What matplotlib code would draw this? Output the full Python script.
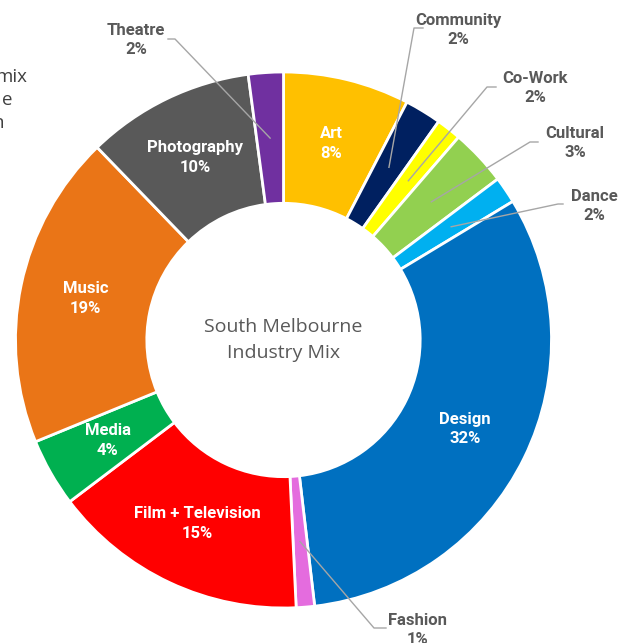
import numpy as np
import matplotlib
matplotlib.use("Agg")
import matplotlib.pyplot as plt

# industry shares (clockwise from 12 o'clock)
industries = ["Art", "Community", "Co-Work", "Cultural", "Dance", "Design",
              "Fashion", "Film + Television", "Media", "Music", "Photography", "Theatre"]
shares = [7.6, 2.2, 1.5, 3.4, 1.6, 31.7, 1.1, 15.4, 4.1, 18.9, 10.1, 2.1]
pct_labels = ["8%", "2%", "2%", "3%", "2%", "32%", "1%", "15%", "4%", "19%", "10%", "2%"]
colors = ["#FFC000", "#002060", "#FFFF00", "#92D050", "#00B0F0", "#0070C0",
          "#E46CDE", "#FF0000", "#00B050", "#EA7517", "#595959", "#7030A0"]

inside = {"Art", "Design", "Film + Television", "Media", "Music", "Photography"}

# outside label layout in pixels: text centre, line start, elbow
outside_layout = {
    "Theatre":   ((136, 40), (168, 39), (175, 39)),
    "Community": ((458, 30), (423, 28), (414, 28)),
    "Co-Work":   ((535, 88), (496, 87), (487, 87)),
    "Cultural":  ((575, 143), (538, 142), (530, 142)),
    "Dance":     ((594, 206), (563, 204), (558, 204)),
    "Fashion":   ((418, 630), (386, 628), (374, 628)),
}

W, H = 633, 643
CX, CY, R = 283.5, 340, 268.0


def px(x, y):
    return (x - CX) / R, (CY - y) / R


fig = plt.figure(figsize=(W / 100, H / 100), dpi=100)
ax = fig.add_axes([0, 0, 1, 1])

wedges, _ = ax.pie(shares, colors=colors, startangle=90, counterclock=False,
                   radius=1.0, wedgeprops=dict(width=0.49, edgecolor="white", linewidth=2))
ax.set_xlim(px(0, 0)[0], px(W, 0)[0])
ax.set_ylim(px(0, H)[1], px(0, 0)[1])
ax.set_aspect("equal")
ax.axis("off")

font = "Roboto"
mid_r = 0.755
for w, name, pct in zip(wedges, industries, pct_labels):
    ang = np.deg2rad((w.theta1 + w.theta2) / 2)
    mx, my = mid_r * np.cos(ang), mid_r * np.sin(ang)
    if name in inside:
        ax.text(mx, my, f"{name}\n{pct}", ha="center", va="center", color="white",
                fontsize=12, fontweight="bold", family=font, linespacing=1.4)
    else:
        (tx, ty), start, elbow = outside_layout[name]
        ax.text(*px(tx, ty), f"{name}\n{pct}", ha="center", va="center", color="#595959",
                fontsize=12, fontweight="bold", family=font, linespacing=1.4)
        xs = [px(*start)[0], px(*elbow)[0], mx]
        ys = [px(*start)[1], px(*elbow)[1], my]
        ax.plot(xs, ys, color="#A6A6A6", lw=1)

ax.text(0, 0, "South Melbourne\nIndustry Mix", ha="center", va="center",
        color="#595959", fontsize=14, family="Open Sans", linespacing=1.5)

# clipped text from a neighbouring box at the left edge
for s, x, y in [("mix", 27, 77), ("e", 12, 100), ("n", 4, 123)]:
    fig.text(x / W, 1 - y / H, s, ha="right", va="center", color="#404040",
             fontsize=13.5, family="Open Sans")

fig.savefig("out.png", dpi=100)
